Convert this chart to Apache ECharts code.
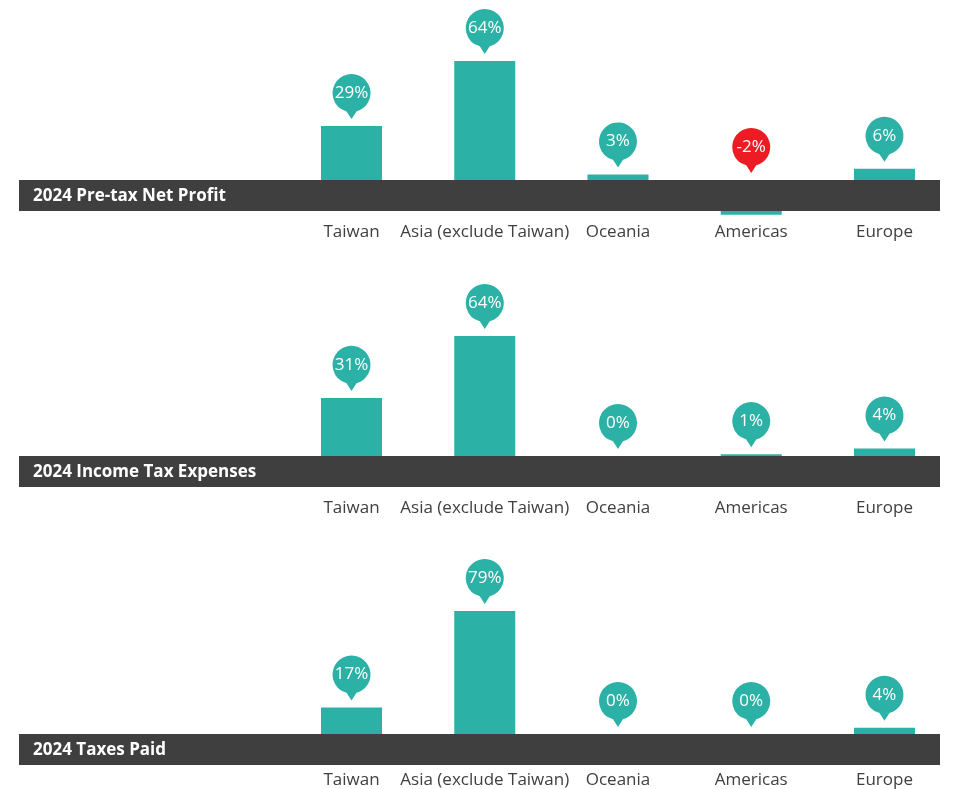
<!DOCTYPE html>
<html><head><meta charset="utf-8">
<script src="https://cdn.jsdelivr.net/npm/echarts@6/dist/echarts.min.js"></script>
<style>html,body{margin:0;padding:0;background:#fff}#c{width:960px;height:789px}</style>
</head><body><div id="c"></div>
<script>
const categories = ['Taiwan', 'Asia (exclude Taiwan)', 'Oceania', 'Americas', 'Europe'];
const panelTitles = ['2024 Pre-tax Net Profit', '2024 Income Tax Expenses', '2024 Taxes Paid'];
const pretaxProfit = [29, 64, 3, -2, 6];
const incomeTaxExpenses = [31, 64, 0, 1, 4];
const taxesPaid = [17, 79, 0, 0, 4];
const panelValues = [pretaxProfit, incomeTaxExpenses, taxesPaid];

const TEAL = '#2cb1a6', RED = '#ed1c24', BAND = '#3f3f3f', TXT = '#404040';
const FONT = '"Open Sans", "Noto Sans", sans-serif';
const BAND_H = 31;
// layout: zero line y, grid top y, label margin
const layout = [
  {zero: 180, top: 61, margin: 44},
  {zero: 456, top: 336, margin: 44},
  {zero: 734, top: 611, margin: 38}
];
const H = 789;
const PIN = 'path://M24,37.33 A19,19 0 1,0 14,37.33 L19,45 Z';

const grids = [], xAxes = [], yAxes = [], series = [], graphics = [];
panelValues.forEach((vals, p) => {
  const L = layout[p];
  grids.push({left: 284.9, right: 8.9, top: L.top, bottom: H - L.zero});
  xAxes.push({
    type: 'category', gridIndex: p, data: categories,
    axisLine: {show: false}, axisTick: {show: false}, splitLine: {show: false},
    axisLabel: {color: TXT, fontSize: 17, fontFamily: FONT, margin: L.margin, interval: 0}
  });
  yAxes.push({
    type: 'value', gridIndex: p, min: 0, max: Math.max(...vals), show: false, splitLine: {show: false}
  });
  series.push({
    type: 'custom', xAxisIndex: p, yAxisIndex: p,
    data: vals.map((v, i) => [i, v]),
    itemStyle: {color: TEAL},
    renderItem: function (params, api) {
      const v = api.value(1);
      const zero = api.coord([api.value(0), 0]);
      const top = api.coord([api.value(0), v]);
      const w = api.size([1, 0])[0] * 0.458;
      let y0, h;
      if (v >= 0) { y0 = top[1]; h = zero[1] - top[1]; }
      else { y0 = zero[1] + BAND_H; h = top[1] - zero[1]; }
      return {type: 'rect', shape: {x: zero[0] - w / 2, y: y0, width: w, height: h}, style: api.style()};
    },
    z: 1
  });
  series.push({
    type: 'scatter', xAxisIndex: p, yAxisIndex: p, clip: false,
    symbol: PIN, symbolSize: [38, 45], symbolOffset: [0, -29.5],
    data: vals.map((v, i) => ({value: [i, Math.max(v, 0)], itemStyle: {color: v < 0 ? RED : TEAL, opacity: 1}})),
    itemStyle: {opacity: 1},
    label: {
      show: true, position: 'inside', offset: [0, -3.5], color: '#fff', fontSize: 17, fontFamily: FONT,
      formatter: (prm) => vals[prm.dataIndex] + '%'
    },
    emphasis: {disabled: true},
    z: 3
  });
  graphics.push({
    type: 'rect', left: 19, top: L.zero, shape: {width: 921, height: BAND_H},
    style: {fill: BAND}, z: 10
  });
  graphics.push({
    type: 'text', left: 33, top: L.zero + 8,
    style: {text: panelTitles[p], fill: '#fff', font: 'bold 17px ' + FONT}, z: 11
  });
});

const chart = echarts.init(document.getElementById('c'), null, {renderer: 'canvas'});
chart.setOption({
  animation: false,
  grid: grids, xAxis: xAxes, yAxis: yAxes, series: series, graphic: graphics
});
</script></body></html>
